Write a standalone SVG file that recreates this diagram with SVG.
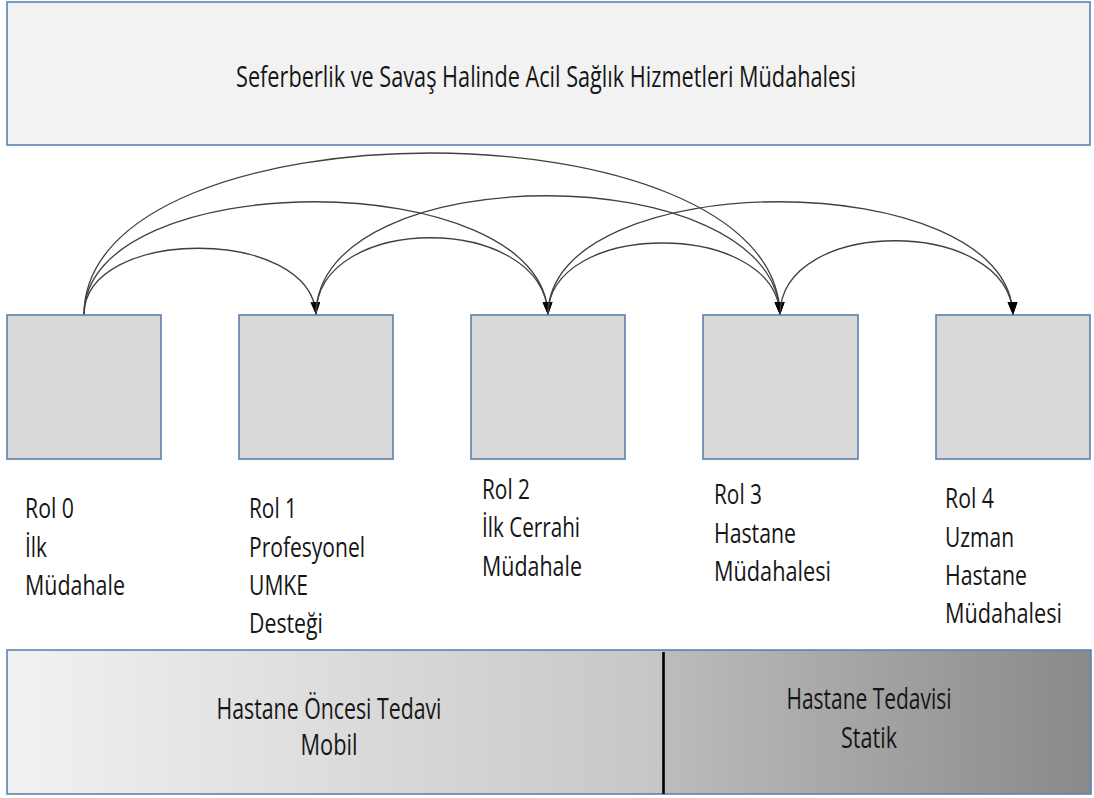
<svg xmlns="http://www.w3.org/2000/svg" width="1094" height="798" viewBox="0 0 1094 798">
  <defs>
    <style>
      .lbl { font-family: "Open Sans", "Liberation Sans", sans-serif; font-size: 27.5px; fill: #161616; }
      .ttl { font-family: "Open Sans", "Liberation Sans", sans-serif; font-size: 30px; fill: #161616; }
      .bnd { font-family: "Open Sans", "Liberation Sans", sans-serif; font-size: 28.5px; fill: #161616; text-anchor: middle; }
      .role { fill: #d9d9d9; stroke: #5b7fad; stroke-width: 1.6; }
      .arc { fill: none; stroke: #404040; stroke-width: 1.3; }
    </style>
    <marker id="head" markerUnits="userSpaceOnUse" markerWidth="14" markerHeight="11" refX="13" refY="5" orient="auto">
      <path d="M0,0 L13,5 L0,10 z" fill="#000"/>
    </marker>
    <linearGradient id="mobileFill" x1="0" y1="0" x2="1" y2="0">
      <stop offset="0" stop-color="#f2f2f2"/>
      <stop offset="1" stop-color="#c6c6c6"/>
    </linearGradient>
    <linearGradient id="staticFill" x1="0" y1="0" x2="1" y2="0">
      <stop offset="0" stop-color="#bcbcbc"/>
      <stop offset="1" stop-color="#898989"/>
    </linearGradient>
  </defs>

  <rect width="1094" height="798" fill="#ffffff"/>

  <!-- header banner -->
  <g id="header">
    <rect x="7" y="2" width="1083" height="143" fill="#f2f2f2" stroke="#5b84b1" stroke-width="1.6"/>
    <text class="ttl" x="236" y="87" textLength="620" lengthAdjust="spacingAndGlyphs">Seferberlik ve Savaş Halinde Acil Sağlık Hizmetleri Müdahalesi</text>
  </g>

  <!-- connectors between roles -->
  <g id="connectors" marker-end="url(#head)">
    <path class="arc" d="M84,315 C84,226 312,226 316,315"/>
    <path class="arc" d="M84,315 C84,164 544,164 548,315"/>
    <path class="arc" d="M84,315 C84,99 776,99 780,315"/>
    <path class="arc" d="M316,315 C316,156 776,156 780,315"/>
    <path class="arc" d="M316,315 C316,212 544,212 548,315"/>
    <path class="arc" d="M548,315 C548,164 1009,164 1013,315"/>
    <path class="arc" d="M548,315 C548,219 776,219 780,315"/>
    <path class="arc" d="M780,315 C780,216 1009,216 1013,315"/>
  </g>

  <!-- role nodes -->
  <g id="rol0">
    <rect class="role" x="7" y="315" width="154" height="144"/>
    <text class="lbl" x="25" y="518" textLength="49" lengthAdjust="spacingAndGlyphs">Rol 0</text>
    <text class="lbl" x="25" y="557" textLength="22" lengthAdjust="spacingAndGlyphs">İlk</text>
    <text class="lbl" x="25" y="595" textLength="100" lengthAdjust="spacingAndGlyphs">Müdahale</text>
  </g>
  <g id="rol1">
    <rect class="role" x="239" y="315" width="154" height="144"/>
    <text class="lbl" x="249" y="518" textLength="48" lengthAdjust="spacingAndGlyphs">Rol 1</text>
    <text class="lbl" x="249" y="557" textLength="116" lengthAdjust="spacingAndGlyphs">Profesyonel</text>
    <text class="lbl" x="249" y="595" textLength="59" lengthAdjust="spacingAndGlyphs">UMKE</text>
    <text class="lbl" x="249" y="633" textLength="74" lengthAdjust="spacingAndGlyphs">Desteği</text>
  </g>
  <g id="rol2">
    <rect class="role" x="471" y="315" width="154" height="144"/>
    <text class="lbl" x="482" y="499" textLength="48" lengthAdjust="spacingAndGlyphs">Rol 2</text>
    <text class="lbl" x="482" y="537" textLength="98" lengthAdjust="spacingAndGlyphs">İlk Cerrahi</text>
    <text class="lbl" x="482" y="576" textLength="100" lengthAdjust="spacingAndGlyphs">Müdahale</text>
  </g>
  <g id="rol3">
    <rect class="role" x="703" y="315" width="155" height="144"/>
    <text class="lbl" x="714" y="504" textLength="48" lengthAdjust="spacingAndGlyphs">Rol 3</text>
    <text class="lbl" x="714" y="543" textLength="82" lengthAdjust="spacingAndGlyphs">Hastane</text>
    <text class="lbl" x="714" y="581" textLength="117" lengthAdjust="spacingAndGlyphs">Müdahalesi</text>
  </g>
  <g id="rol4">
    <rect class="role" x="936" y="315" width="154" height="144"/>
    <text class="lbl" x="945" y="508" textLength="49" lengthAdjust="spacingAndGlyphs">Rol 4</text>
    <text class="lbl" x="945" y="547" textLength="69" lengthAdjust="spacingAndGlyphs">Uzman</text>
    <text class="lbl" x="945" y="585" textLength="82" lengthAdjust="spacingAndGlyphs">Hastane</text>
    <text class="lbl" x="945" y="623" textLength="117" lengthAdjust="spacingAndGlyphs">Müdahalesi</text>
  </g>

  <!-- treatment phase band -->
  <g id="phases">
    <rect x="7" y="650" width="656" height="144" fill="url(#mobileFill)"/>
    <rect x="663" y="650" width="428" height="144" fill="url(#staticFill)"/>
    <rect x="7" y="650" width="1084" height="144" fill="none" stroke="#5b84b1" stroke-width="1.6"/>
    <line x1="663.5" y1="652" x2="663.5" y2="794" stroke="#000" stroke-width="2.6"/>
    <text class="bnd" x="329" y="719" textLength="225" lengthAdjust="spacingAndGlyphs">Hastane Öncesi Tedavi</text>
    <text class="bnd" x="329" y="755" textLength="57" lengthAdjust="spacingAndGlyphs">Mobil</text>
    <text class="bnd" x="869" y="709" textLength="165" lengthAdjust="spacingAndGlyphs">Hastane Tedavisi</text>
    <text class="bnd" x="869" y="748" textLength="56" lengthAdjust="spacingAndGlyphs">Statik</text>
  </g>
</svg>
